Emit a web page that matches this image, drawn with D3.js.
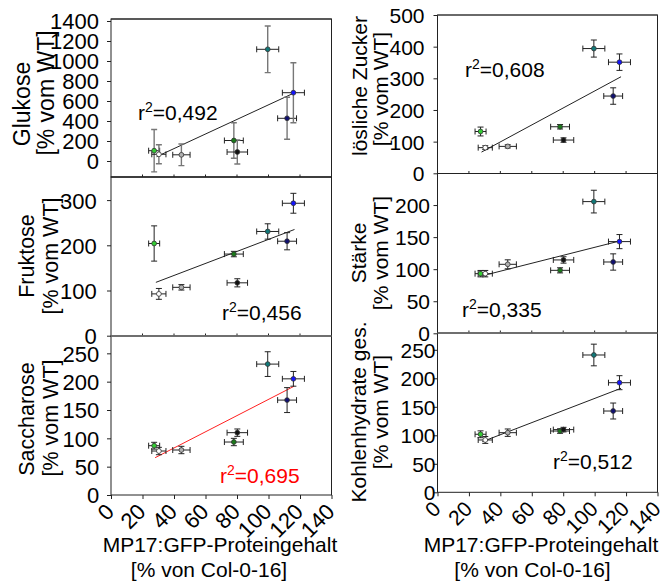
<!DOCTYPE html>
<html>
<head>
<meta charset="utf-8">
<script src="https://cdn.jsdelivr.net/npm/d3@7"></script>
<style>
  body { margin: 0; background: #fff; }
  svg { display: block; }
  text { font-family: "Liberation Sans", Arial, sans-serif; fill: #000; }
</style>
</head>
<body>
<svg id="chart" width="664" height="584"></svg>
<script>
// MP17:GFP protein content of the eight lines (% of Col-0-16) with SD
const proteinContent = [27.4, 30.4, 44.7, 78, 80.2, 99.5, 111.8, 115.8];
const proteinErr     = [3.5, 4.5, 5.5, 6, 6.5, 7, 6, 7];
const lineColors     = ["#33cc33", "#ffffff", "#b0b0b0", "#1a7a1a", "#111111", "#107878", "#101070", "#1414ff"];

// Carbohydrate contents (% of WT) with SD, one value per line
const glukose      = [103, 67, 62, 205, 90, 1117, 427, 683];
const glukoseErr   = [212, 95, 108, 178, 120, 233, 210, 300];
const fruktose     = [204, 92.5, 107, 180.6, 117, 230.6, 209, 293];
const fruktoseErr  = [39, 12, 6, 6, 9, 17, 19, 22];
const saccharose   = [87, 77.6, 79.4, 93.5, 110, 231, 167.5, 205];
const saccharoseErr= [6, 6.5, 6.5, 6.5, 6.5, 21.8, 22, 13];
const zucker       = [132, 81, 85, 147, 105, 394, 244, 351];
const zuckerErr    = [14, 6, 5, 7, 7, 27, 26, 26];
const staerke      = [93, 93, 107.6, 98.2, 114.4, 205.4, 111.2, 143];
const staerkeErr   = [5, 5, 7, 4, 5, 17.7, 12.7, 11];
const kohlenhydrate    = [101.8, 91.8, 104.6, 107.5, 110, 240.9, 142.6, 192.3];
const kohlenhydrateErr = [6, 6, 6.5, 4, 4, 19, 14, 12.3];

// Regression lines: [x, y] at both ends
const fitGlukose       = [[28.9, 43], [115.8, 677]];
const fitFruktose      = [[28.5, 118], [116.5, 235]];
const fitSaccharose    = [[28.0, 65.8], [116.3, 192]];
const fitZucker        = [[28.0, 67], [116.8, 305]];
const fitStaerke       = [[28.0, 89.4], [116.8, 144.5]];
const fitKohlenhydrate = [[28.5, 88.8], [116.8, 182.5]];

const r2Labels = ["0,492", "0,456", "0,695", "0,608", "0,335", "0,512"];

const xTicks = [0, 20, 40, 60, 80, 100, 120, 140];
const glukoseTicks = [0, 200, 400, 600, 800, 1000, 1200, 1400];
const fruktoseTicks = [0, 100, 200, 300];
const saccharoseTicks = [0, 50, 100, 150, 200, 250];
const zuckerTicks = [0, 100, 200, 300, 400, 500];
const staerkeTicks = [0, 50, 100, 150, 200];
const kohlenhydrateTicks = [0, 50, 100, 150, 200, 250];

const yTitles = ["Glukose", "Fruktose", "Saccharose", "lösliche Zucker", "Stärke", "Kohlenhydrate ges."];
const yUnit = "[% vom WT]";
const xTitle = ["MP17:GFP-Proteingehalt", "[% von Col-0-16]"];

const svg = d3.select("#chart");

const panels = [
  { vals: glukose, errs: glukoseErr, fit: fitGlukose, ticks: glukoseTicks, r2: r2Labels[0], title: yTitles[0],
    x0: 111, x1: 331.5, top: 19, bottom: 177, dom: [0, 1400], rng: [161, 21],
    labelEnd: 99, t1: 22, t2: 45.5, c1: 104, c2: 93, r2x: 138, r2y: 120, r2c: "#000", fitc: "#222",
    vbar: "#777", vbw: 1.4, fs: 22, tfs: 23, bottomAxis: false, topStroke: "#222" },
  { vals: fruktose, errs: fruktoseErr, fit: fitFruktose, ticks: fruktoseTicks, r2: r2Labels[1], title: yTitles[1],
    x0: 111, x1: 331.5, top: 177, bottom: 336, dom: [0, 350], rng: [335.7, 177.5],
    labelEnd: 96.7, t1: 26.7, t2: 50.5, c1: 256, c2: 256, r2x: 222, r2y: 320, r2c: "#000", fitc: "#222",
    vbar: "#222", vbw: 1, fs: 22, tfs: 21.5, bottomAxis: false, topStroke: "#222" },
  { vals: saccharose, errs: saccharoseErr, fit: fitSaccharose, ticks: saccharoseTicks, r2: r2Labels[2], title: yTitles[2],
    x0: 111, x1: 331.5, top: 336, bottom: 495, dom: [0, 300], rng: [495, 325],
    labelEnd: 99.3, t1: 26.7, t2: 50, c1: 419, c2: 418, r2x: 220, r2y: 482.7, r2c: "#ff0000", fitc: "#ff2020",
    vbar: "#222", vbw: 1, fs: 22, tfs: 21.5, bottomAxis: true, topStroke: "#777" },
  { vals: zucker, errs: zuckerErr, fit: fitZucker, ticks: zuckerTicks, r2: r2Labels[3], title: yTitles[3],
    x0: 437.5, x1: 657.5, top: 15, bottom: 173.5, dom: [0, 500], rng: [173.3, 15],
    labelEnd: 424.5, t1: 359, t2: 380.5, c1: 86, c2: 89, r2x: 465, r2y: 77, r2c: "#000", fitc: "#222",
    vbar: "#222", vbw: 1, fs: 21, tfs: 21, bottomAxis: false, topStroke: "#444" },
  { vals: staerke, errs: staerkeErr, fit: fitStaerke, ticks: staerkeTicks, r2: r2Labels[4], title: yTitles[4],
    x0: 437.5, x1: 657.5, top: 173.5, bottom: 333, dom: [0, 250], rng: [333.3, 173],
    labelEnd: 430, t1: 358.5, t2: 380.5, c1: 253, c2: 253, r2x: 462, r2y: 316.7, r2c: "#000", fitc: "#222",
    vbar: "#222", vbw: 1, fs: 21, tfs: 21, bottomAxis: false, topStroke: "#222" },
  { vals: kohlenhydrate, errs: kohlenhydrateErr, fit: fitKohlenhydrate, ticks: kohlenhydrateTicks, r2: r2Labels[5], title: yTitles[5],
    x0: 437.5, x1: 657.5, top: 333, bottom: 492.3, dom: [0, 300], rng: [492.3, 321.3],
    labelEnd: 435.5, t1: 358.5, t2: 380.5, c1: 412, c2: 412, r2x: 553, r2y: 469, r2c: "#000", fitc: "#222",
    vbar: "#222", vbw: 1, fs: 21, tfs: 21, bottomAxis: true, topStroke: "#777" }
];

const defs = svg.append("defs");

panels.forEach((p, i) => {
  const x = d3.scaleLinear().domain([0, 140]).range([p.x0, p.x1]);
  const y = d3.scaleLinear().domain(p.dom).range(p.rng);
  const g = svg.append("g");

  defs.append("clipPath").attr("id", "clip" + i)
    .append("rect").attr("x", p.x0).attr("y", p.top)
    .attr("width", p.x1 - p.x0).attr("height", p.bottom - p.top);

  // y axis: ticks and labels
  const yAxis = d3.axisLeft(y).tickValues(p.ticks).tickSize(4).tickSizeOuter(0).tickFormat(d3.format("d"));
  const ya = g.append("g").attr("transform", `translate(${p.x0},0)`).call(yAxis);
  ya.select(".domain").remove();
  ya.selectAll(".tick line").attr("stroke", "#222");
  ya.selectAll(".tick text")
    .attr("x", p.labelEnd - p.x0).attr("dy", "0.36em")
    .attr("font-size", p.fs).attr("font-family", "Liberation Sans, Arial, sans-serif").attr("fill", "#000");

  // x ticks along the bottom edge
  if (p.bottomAxis) {
    const xAxis = d3.axisBottom(x).tickValues(xTicks).tickSize(4).tickSizeOuter(0).tickFormat(d3.format("d"));
    const xa = g.append("g").attr("transform", `translate(0,${p.bottom})`).call(xAxis);
    xa.select(".domain").remove();
    xa.selectAll(".tick line").attr("stroke", "#222");
    xa.selectAll(".tick text")
      .attr("y", 0).attr("dy", 0)
      .attr("text-anchor", "end")
      .attr("transform", "translate(4,18) rotate(-45)")
      .attr("font-size", p.fs).attr("font-family", "Liberation Sans, Arial, sans-serif").attr("fill", "#000");
  } else {
    g.append("g").selectAll("line").data(xTicks.slice(1, -1)).join("line")
      .attr("x1", d => x(d)).attr("x2", d => x(d))
      .attr("y1", p.bottom).attr("y2", p.bottom - 2.5)
      .attr("stroke", "#222");
  }

  // plot content, clipped to the visible frame
  const c = g.append("g").attr("clip-path", `url(#clip${i})`);
  const pts = proteinContent.map((v, k) => ({ x: v, xe: proteinErr[k], y: p.vals[k], ye: p.errs[k], col: lineColors[k] }));

  c.append("line")
    .attr("x1", x(p.fit[0][0])).attr("y1", y(p.fit[0][1]))
    .attr("x2", x(p.fit[1][0])).attr("y2", y(p.fit[1][1]))
    .attr("stroke", p.fitc).attr("stroke-width", 1);

  const cap = 3;
  const eb = c.append("g");
  pts.forEach(d => {
    const cx = x(d.x), cy = y(d.y);
    const yt = y(d.y + d.ye), yb = y(d.y - d.ye);
    const xl = x(d.x - d.xe), xr = x(d.x + d.xe);
    eb.append("path")
      .attr("d", `M${cx},${yt}V${yb}M${cx - cap},${yt}H${cx + cap}M${cx - cap},${yb}H${cx + cap}`)
      .attr("stroke", p.vbar).attr("stroke-width", p.vbw).attr("fill", "none");
    eb.append("path")
      .attr("d", `M${xl},${cy}H${xr}M${xl},${cy - cap}V${cy + cap}M${xr},${cy - cap}V${cy + cap}`)
      .attr("stroke", "#222").attr("stroke-width", 1).attr("fill", "none");
  });

  c.append("g").selectAll("circle").data(pts).join("circle")
    .attr("cx", d => x(d.x)).attr("cy", d => y(d.y)).attr("r", 2.4)
    .attr("fill", d => d.col).attr("stroke", "#333").attr("stroke-width", 0.8);

  // frame
  g.append("rect")
    .attr("x", p.x0).attr("y", p.top)
    .attr("width", p.x1 - p.x0).attr("height", p.bottom - p.top)
    .attr("fill", "none").attr("stroke", "#222").attr("stroke-width", 1);
  g.append("line")
    .attr("x1", p.x0).attr("x2", p.x1).attr("y1", p.top).attr("y2", p.top)
    .attr("stroke", p.topStroke).attr("stroke-width", p.topStroke === "#777" ? 1.6 : 1);

  // r² annotation
  const t = g.append("text").attr("x", p.r2x).attr("y", p.r2y)
    .attr("font-size", 21).style("fill", p.r2c);
  t.append("tspan").text("r");
  t.append("tspan").attr("dy", -8).attr("font-size", 14).text("2");
  t.append("tspan").attr("dy", 8).text("=" + p.r2);

  // y axis title (two lines)
  g.append("text")
    .attr("transform", `translate(${p.t1},${p.c1}) rotate(-90)`)
    .attr("text-anchor", "middle").attr("dy", "0.36em")
    .attr("font-size", p.tfs).text(p.title);
  g.append("text")
    .attr("transform", `translate(${p.t2},${p.c2}) rotate(-90)`)
    .attr("text-anchor", "middle").attr("dy", "0.36em")
    .attr("font-size", p.tfs).text(yUnit);
});

// x axis titles under both columns
[[220, 209], [541, 532.5]].forEach(([c1, c2]) => {
  svg.append("text").attr("x", c1).attr("y", 551.5).attr("text-anchor", "middle")
    .attr("font-size", 21).text(xTitle[0]);
  svg.append("text").attr("x", c2).attr("y", 577).attr("text-anchor", "middle")
    .attr("font-size", 21).text(xTitle[1]);
});
</script>
</body>
</html>
